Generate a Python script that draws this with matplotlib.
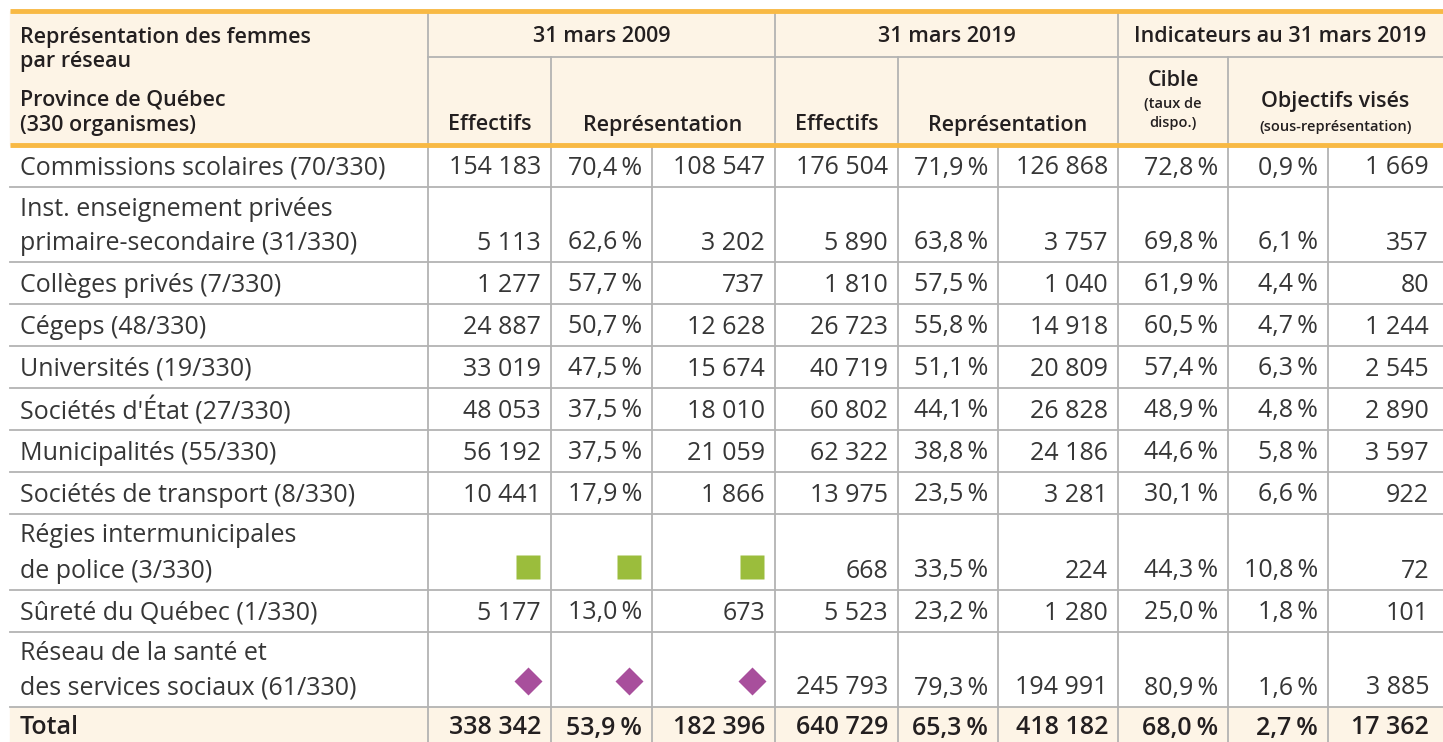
import matplotlib
matplotlib.use("Agg")
import matplotlib.pyplot as plt
from matplotlib.patches import Rectangle

# ---- data -----------------------------------------------------------------
labels = [
    "Commissions scolaires (70/330)",
    "Inst. enseignement privées\nprimaire-secondaire (31/330)",
    "Collèges privés (7/330)",
    "Cégeps (48/330)",
    "Universités (19/330)",
    "Sociétés d'État (27/330)",
    "Municipalités (55/330)",
    "Sociétés de transport (8/330)",
    "Régies intermunicipales\nde police (3/330)",
    "Sûreté du Québec (1/330)",
    "Réseau de la santé et\ndes services sociaux (61/330)",
]
eff_2009 = [154183, 5113, 1277, 24887, 33019, 48053, 56192, 10441, None, 5177, None]
pct_2009 = [70.4, 62.6, 57.7, 50.7, 47.5, 37.5, 37.5, 17.9, None, 13.0, None]
rep_2009 = [108547, 3202, 737, 12628, 15674, 18010, 21059, 1866, None, 673, None]
eff_2019 = [176504, 5890, 1810, 26723, 40719, 60802, 62322, 13975, 668, 5523, 245793]
pct_2019 = [71.9, 63.8, 57.5, 55.8, 51.1, 44.1, 38.8, 23.5, 33.5, 23.2, 79.3]
rep_2019 = [126868, 3757, 1040, 14918, 20809, 26828, 24186, 3281, 224, 1280, 194991]
cible = [72.8, 69.8, 61.9, 60.5, 57.4, 48.9, 44.6, 30.1, 44.3, 25.0, 80.9]
obj_pct = [0.9, 6.1, 4.4, 4.7, 6.3, 4.8, 5.8, 6.6, 10.8, 1.8, 1.6]
obj_n = [1669, 357, 80, 1244, 2545, 2890, 3597, 922, 72, 101, 3885]
# missing values: marker used instead
missing_marker = {8: "s", 10: "D"}

total_label = "Total"
total_values = [338342, 53.9, 182396, 640729, 65.3, 418182, 68.0, 2.7, 17362]

# ---- layout (pixels) --------------------------------------------------------
W, H = 1443, 742
col_edges = [10, 428, 551, 652, 775, 898, 998, 1118, 1228, 1328, 1448]
row_edges = [145, 187, 262, 304, 346, 388, 430, 472, 514, 590, 632, 707, 749]
header_top, header_mid = 11, 57

cream = "#fdf4e6"
orange = "#f8b944"
grid = "#b3b3b3"
txt = "#363636"
head_txt = "#231f20"
green = "#9bbd3c"
purple = "#a84f9c"

FONT = ["Open Sans", "DejaVu Sans"]
data_kw = dict(family=FONT, weight="normal", fontsize=18, color=txt)
head_kw = dict(family=FONT, weight="semibold", fontsize=15.5, color=head_txt)


def fmt_int(v):
    return f"{v:,}".replace(",", " ")


def fmt_pct(v):
    return f"{v:.1f}".replace(".", ",") + "\u2009%"


fig = plt.figure(figsize=(W / 100, H / 100), dpi=100)
ax = fig.add_axes([0, 0, 1, 1])
ax.set_xlim(0, W)
ax.set_ylim(H, 0)
ax.axis("off")

# backgrounds
ax.add_patch(Rectangle((col_edges[0], header_top), col_edges[-1] - col_edges[0],
                       row_edges[0] - header_top, color=cream, zorder=0))
ax.add_patch(Rectangle((col_edges[0], row_edges[-2]), col_edges[-1] - col_edges[0],
                       row_edges[-1] - row_edges[-2], color=cream, zorder=0))

# header lines
ax.plot([col_edges[0], col_edges[-1]], [header_top, header_top], color=orange, lw=3.5, zorder=3,
        solid_capstyle="butt")
ax.plot([col_edges[1], col_edges[-1]], [header_mid, header_mid], color=grid, lw=1.3, zorder=2)
for x in [col_edges[1], col_edges[4], col_edges[7]]:
    ax.plot([x, x], [header_top, row_edges[0]], color=grid, lw=1.3, zorder=2)
for x in [col_edges[2], col_edges[5], col_edges[8]]:
    ax.plot([x, x], [header_mid, row_edges[0]], color=grid, lw=1.3, zorder=2)

# body grid
for y in row_edges[1:-1]:
    ax.plot([col_edges[0], col_edges[-1]], [y, y], color=grid, lw=1.3, zorder=2)
for x in col_edges[1:-1]:
    ax.plot([x, x], [row_edges[0], row_edges[-1]], color=grid, lw=1.3, zorder=2)
ax.plot([col_edges[0], col_edges[-1]], [row_edges[0], row_edges[0]], color=orange, lw=3.5, zorder=3,
        solid_capstyle="butt")

# header texts
ax.text(20, 38, "Représentation des femmes", ha="left", va="center", **head_kw)
ax.text(20, 62, "par réseau", ha="left", va="center", **head_kw)
ax.text(20, 100, "Province de Québec", ha="left", va="center", **head_kw)
ax.text(20, 125, "(330 organismes)", ha="left", va="center", **head_kw)

groups = ["31 mars 2009", "31 mars 2019", "Indicateurs au 31 mars 2019"]
for g, (a, b) in zip(groups, [(1, 4), (4, 7), (7, 10)]):
    ax.text((col_edges[a] + min(col_edges[b], W)) / 2, 37, g, ha="center", va="center", **head_kw)
for a in (1, 4):
    ax.text((col_edges[a] + col_edges[a + 1]) / 2, 125, "Effectifs", ha="center", va="center", **head_kw)
    ax.text((col_edges[a + 1] + col_edges[a + 3]) / 2, 125, "Représentation", ha="center",
            va="center", **head_kw)
cx = (col_edges[7] + col_edges[8]) / 2
ax.text(cx, 80, "Cible", ha="center", va="center", **head_kw)
small_kw = dict(head_kw, fontsize=10.5)
ax.text(cx, 104, "(taux de", ha="center", va="center", **small_kw)
ax.text(cx, 123, "dispo.)", ha="center", va="center", **small_kw)
ox = (col_edges[8] + W) / 2
ax.text(ox, 101, "Objectifs visés", ha="center", va="center", **head_kw)
ax.text(ox, 127, "(sous-représentation)", ha="center", va="center", **small_kw)

# body
columns = [eff_2009, pct_2009, rep_2009, eff_2019, pct_2019, rep_2019, cible, obj_pct, obj_n]
is_pct = [False, True, False, False, True, False, True, True, False]
for i, lab in enumerate(labels):
    top, bot = row_edges[i], row_edges[i + 1]
    two = "\n" in lab
    y_last = bot - 19
    if two:
        l1, l2 = lab.split("\n")
        ax.text(20, top + 22, l1, ha="left", va="center", **data_kw)
        ax.text(20, y_last, l2, ha="left", va="center", **data_kw)
    else:
        ax.text(20, y_last, lab, ha="left", va="center", **data_kw)
    for j, col in enumerate(columns):
        v = col[i]
        right = min(col_edges[j + 2], W - 4) - 10
        if v is None:
            m = missing_marker[i]
            c = green if m == "s" else purple
            ax.plot(right - 13, y_last - (4 if m == "s" else 7), marker=m,
                    ms=17 if m == "s" else 14.5, color=c, mec="none", zorder=4)
        else:
            s = fmt_pct(v) if is_pct[j] else fmt_int(v)
            ax.text(right, y_last, s, ha="right", va="center", **data_kw)

# total row
ty = row_edges[-2] + 21
tot_kw = dict(head_kw, fontsize=18)
ax.text(20, ty, total_label, ha="left", va="center", **tot_kw)
for j, v in enumerate(total_values):
    right = min(col_edges[j + 2], W - 4) - 10
    s = fmt_pct(v) if is_pct[j] else fmt_int(v)
    ax.text(right, ty, s, ha="right", va="center", **tot_kw)

fig.savefig("out.png", dpi=100, facecolor="white")
